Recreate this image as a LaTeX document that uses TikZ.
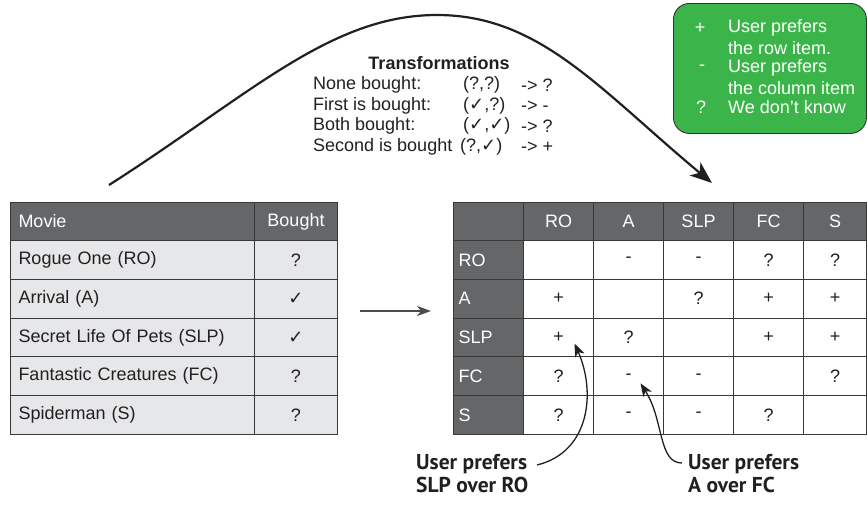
\documentclass[tikz,border=0pt]{standalone}
\usepackage{fontspec}
\setmainfont{Liberation Sans}
\newfontfamily\dejavu{DejaVu Sans}
\newfontfamily\lblfont{PT Sans}
\usetikzlibrary{arrows.meta}
\definecolor{hdr}{HTML}{656668}
\definecolor{lgray}{HTML}{E6E7E8}
\definecolor{grn}{HTML}{3BB54A}
\definecolor{ink}{HTML}{231F20}
\newcommand{\ck}{{\dejavu ✓}}
\begin{document}
\begin{tikzpicture}[x=1pt,y=-1pt,
  font=\fontsize{18}{20}\selectfont, text=ink,
  gridline/.style={draw=black!78, line width=1pt},
  hdrcell/.style={gridline, fill=hdr, text=white, minimum height=38pt, inner sep=0pt, anchor=north west},
  lbody/.style={gridline, fill=lgray, minimum height=38.8pt, inner sep=0pt, anchor=north west},
  wcell/.style={gridline, fill=white, minimum height=38.8pt, minimum width=70pt, inner sep=0pt, anchor=north west},
  rowhdr/.style={gridline, fill=hdr, text=white, minimum height=38.8pt, minimum width=70pt, text width=60pt, align=left, inner sep=0pt, anchor=north west},
  bigarrow/.style={draw=ink, line width=2.2pt, -{Stealth[length=22pt,width=17pt,inset=6pt]}},
  midarrow/.style={draw=black!70, line width=1.6pt, -{Stealth[length=14pt,width=10pt,inset=4pt]}},
  smallarrow/.style={draw=ink, line width=1.3pt, -{Stealth[length=13pt,width=10pt,inset=3.5pt]}},
  lbl/.style={font=\lblfont\bfseries\fontsize{21.5}{23}\selectfont, align=left, inner sep=0pt, anchor=west},
  legtxt/.style={text=white, inner sep=0pt, anchor=west},
  legsym/.style={text=white, inner sep=0pt, anchor=center},
  tr/.style={inner sep=0pt, anchor=west}
]
\useasboundingbox (0,0) rectangle (867,504);

% ---------- left table ----------
\node[hdrcell, minimum width=244pt, text width=228pt, align=left] (lh1) at (10,202) {Movie};
\node[hdrcell, minimum width=83pt] (lh2) at (254,202) {Bought};
\foreach \t/\b [count=\i] in {Rogue One (RO)/?, Arrival (A)/\ck, Secret Life Of Pets (SLP)/\ck, Fantastic Creatures (FC)/?, Spiderman (S)/?}{
  \pgfmathsetmacro\yy{240+38.8*(\i-1)}
  \node[lbody, minimum width=244pt, text width=228pt, align=left] (lm\i) at (10,\yy) {\t};
  \node[lbody, minimum width=83pt] (lb\i) at (254,\yy) {\b};
}

% ---------- right table ----------
\node[hdrcell, minimum width=70pt] (rh0) at (453,202) {};
\foreach \h [count=\j] in {RO, A, SLP, FC}{
  \pgfmathsetmacro\xx{453+70*\j}
  \node[hdrcell, minimum width=70pt] (rh\j) at (\xx,202) {\h};
}
\node[hdrcell, minimum width=63pt] (rh5) at (803,202) {S};

\foreach \lab/\va/\vb/\vc/\vd/\ve [count=\i] in {RO/{}/-/-/?/?, A/+/{}/?/+/+, SLP/+/?/{}/+/+, FC/?/-/-/{}/?, S/?/-/-/?/{}}{
  \pgfmathsetmacro\yy{240+38.8*(\i-1)}
  \node[rowhdr] (r\i) at (453,\yy) {\lab};
  \node[wcell] (c\i-1) at (523,\yy) {\va};
  \node[wcell] (c\i-2) at (593,\yy) {\vb};
  \node[wcell] (c\i-3) at (663,\yy) {\vc};
  \node[wcell] (c\i-4) at (733,\yy) {\vd};
  \node[wcell, minimum width=63pt] (c\i-5) at (803,\yy) {\ve};
}

% ---------- arrow between tables ----------
\coordinate (m1) at (360,311);
\coordinate (m2) at (431,311);
\draw[midarrow] (m1) -- (m2);

% ---------- transformations ----------
\node[font=\bfseries\fontsize{18}{20}\selectfont, inner sep=0pt] (tt) at (439,63) {Transformations};
\node[tr] (n1) at (313,85) {None bought:};
\node[tr] (n2) at (313,106) {First is bought:};
\node[tr] (n3) at (313,126) {Both bought:};
\node[tr] (n4) at (313,147) {Second is bought};
\node[tr] (p1) at (463,85) {(?,?)};
\node[tr] (p2) at (463,106) {(\ck,?)};
\node[tr] (p3) at (463,126) {(\ck,\ck)};
\node[tr] (p4) at (460,147) {(?,\ck)};
\node[tr] (q1) at (521,85) {-> ?};
\node[tr] (q2) at (521,106) {-> -};
\node[tr] (q3) at (521,126) {-> ?};
\node[tr] (q4) at (521,147) {-> +};

% ---------- big curve ----------
\coordinate (bs) at (109,185);
\coordinate (bp) at (437,15);
\coordinate (be) at (712,183);
\draw[bigarrow] (bs) .. controls (250,95) and (330,15) .. (bp) .. controls (540,15) and (600,90) .. (be);

% ---------- legend ----------
\node[draw=black!80, line width=0.9pt, fill=grn, rounded corners=16pt, minimum width=193pt, minimum height=130pt, anchor=north west, inner sep=0pt] (leg) at (673,3) {};
\node[legsym] (s1) at (700,28) {+};
\node[legtxt] (g1) at (728,28) {User prefers};
\node[legtxt] (g2) at (728,48) {the row item.};
\node[legsym] (s2) at (702,68) {-};
\node[legtxt] (g3) at (728,68) {User prefers};
\node[legtxt] (g4) at (728,88) {the column item};
\node[legsym] (s3) at (701,107) {?};
\node[legtxt] (g5) at (728,107) {We don’t know};

% ---------- bottom labels ----------
\node[lbl] (l1) at (416,474) {User prefers\\SLP over RO};
\node[lbl] (l2) at (688,474) {User prefers\\A over FC};
\coordinate (a1) at (537,465);
\coordinate (a2) at (682,463);
\draw[smallarrow] (a1) .. controls (590,452) and (596,392) .. ([xshift=16pt,yshift=-6pt]c3-1.center);
\draw[smallarrow] (a2) .. controls (658,463) and (664,420) .. ([xshift=12pt,yshift=-7pt]c4-2.center);
\end{tikzpicture}
\end{document}
